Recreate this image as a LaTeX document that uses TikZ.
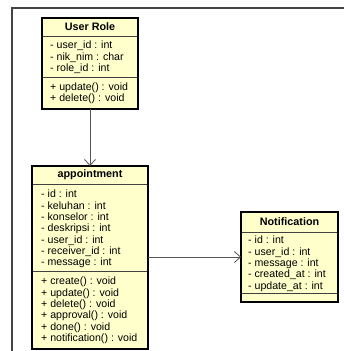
\documentclass[tikz,border=0pt]{standalone}
\usepackage{fontspec}
\setmainfont{Liberation Sans}
\usetikzlibrary{arrows.meta,positioning}
\definecolor{classfill}{HTML}{FFFFCC}
\definecolor{framegray}{HTML}{444444}
\definecolor{linkgray}{HTML}{555555}
\tikzset{compart/.style={draw=black!75,line width=0.6pt,fill=classfill,anchor=north west,outer sep=0pt,inner sep=0pt},
         classframe/.style={draw=black,line width=1.4pt,anchor=north west,outer sep=0pt,inner sep=0pt},
         members/.style={inner sep=0pt,align=left,font=\fontsize{10.6}{11.3}\selectfont},
         classname/.style={inner sep=0pt,font=\fontsize{10.8}{11.3}\selectfont\bfseries},
         link/.style={linkgray,line width=0.8pt,-{Straight Barb[length=6pt,width=11pt]}}}

\begin{document}
\begin{tikzpicture}[x=1pt,y=-1pt]
    \useasboundingbox (0,0) rectangle (344,351);
    \draw [framegray,line width=1.3pt] (12,351) -- (12,8) -- (344,8);

    % User Role
    \node (ur-title) [compart,minimum width=96pt,minimum height=18pt] at (42,18) {};
    \node (ur-attr) [compart,minimum width=96pt,minimum height=41pt] at (42,36) {};
    \node (ur-ops) [compart,minimum width=96pt,minimum height=32pt] at (42,77) {};
    \node (userrole) [classframe,minimum width=96pt,minimum height=91pt] at (42,18) {};
    \node (ur-name) [classname] at (ur-title) {User Role};
    \node (ur-attr-txt) [members,below right=5pt and 8pt of ur-attr.north west] {- user\_id : int\\- nik\_nim : char\\- role\_id : int};
    \node (ur-ops-txt) [members,below right=5.5pt and 8pt of ur-ops.north west] {+ update() : void\\+ delete() : void};

    % appointment
    \node (ap-title) [compart,minimum width=116pt,minimum height=18pt] at (32,166) {};
    \node (ap-attr) [compart,minimum width=116pt,minimum height=87pt] at (32,184) {};
    \node (ap-ops) [compart,minimum width=116pt,minimum height=78pt] at (32,271) {};
    \node (appointment) [classframe,minimum width=116pt,minimum height=183pt] at (32,166) {};
    \node (ap-name) [classname] at (ap-title) {appointment};
    \node (ap-attr-txt) [members,below right=6pt and 9pt of ap-attr.north west] {- id : int\\- keluhan : int\\- konselor : int\\- deskripsi : int\\- user\_id : int\\- receiver\_id : int\\- message : int};
    \node (ap-ops-txt) [members,below right=6pt and 9pt of ap-ops.north west] {+ create() : void\\+ update() : void\\+ delete() : void\\+ approval() : void\\+ done() : void\\+ notification() : void};

    % Notification
    \node (nt-title) [compart,minimum width=97pt,minimum height=20pt] at (241,212) {};
    \node (nt-attr) [compart,minimum width=97pt,minimum height=61pt] at (241,232) {};
    \node (nt-ops) [compart,minimum width=97pt,minimum height=9pt] at (241,293) {};
    \node (notification) [classframe,minimum width=97pt,minimum height=90pt] at (241,212) {};
    \node (nt-name) [classname] at (nt-title) {Notification};
    \node (nt-attr-txt) [members,below right=4pt and 7pt of nt-attr.north west] {- id : int\\- user\_id : int\\- message : int\\- created\_at : int\\- update\_at : int};

    \draw [link] (userrole.south) -- (appointment.north);
    \draw [link] (notification.west -| appointment.east) -- (notification.west);
\end{tikzpicture}
\end{document}
